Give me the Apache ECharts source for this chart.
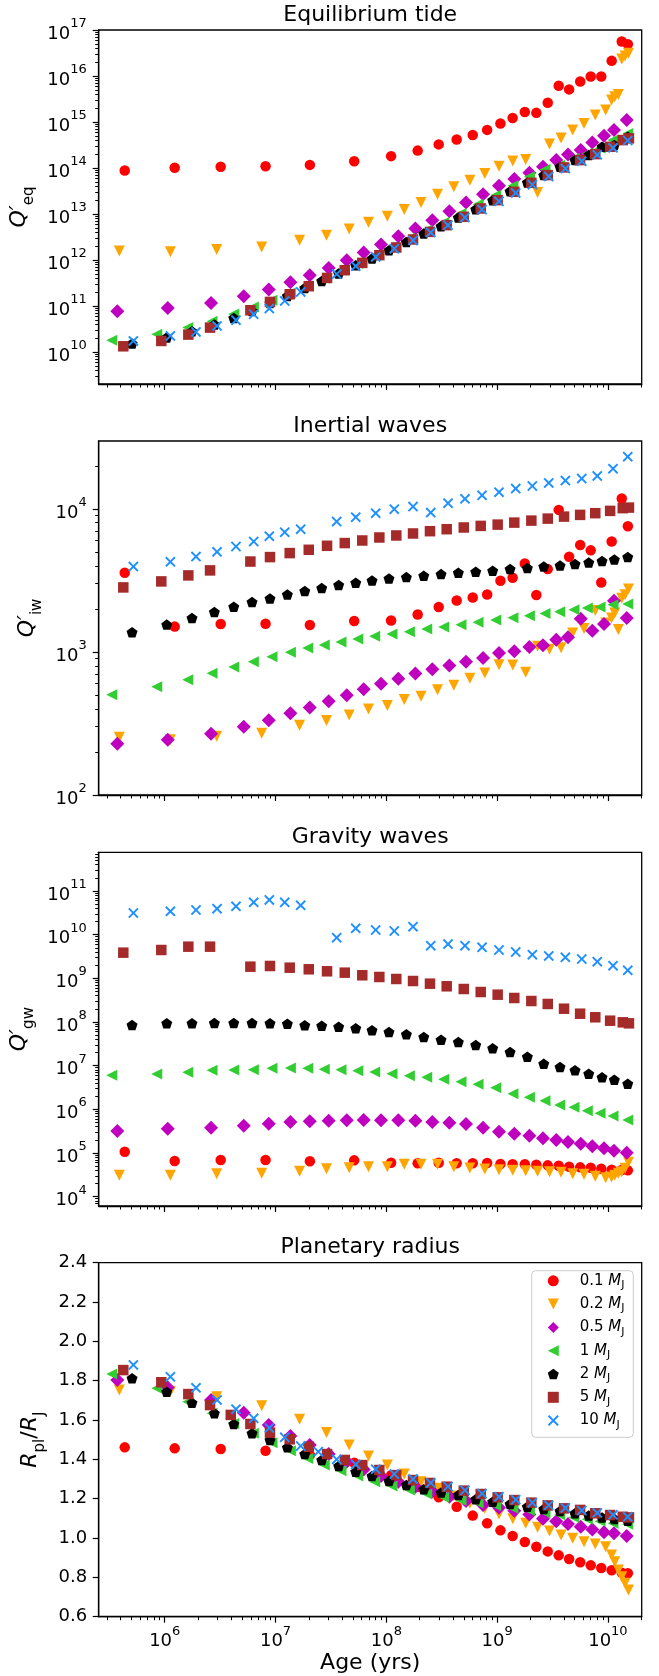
<!DOCTYPE html>
<html><head><meta charset="utf-8">
<script src="https://cdn.jsdelivr.net/npm/echarts@6/dist/echarts.min.js"></script>
<style>html,body{margin:0;padding:0;background:#fff}#c{width:659px;height:1676px}</style>
</head><body><div id="c"></div>
<script>
// ---------- DATA ----------
const masses = ['0.1', '0.2', '0.5', '1', '2', '5', '10'];
const panelTitles = ['Equilibrium tide', 'Inertial waves', 'Gravity waves', 'Planetary radius'];
const xTickValues = [1e6, 1e7, 1e8, 1e9, 1e10];

// log10(age / yr) per planet mass
const ageLog_0p1 = [5.639, 6.090, 6.505, 6.910, 7.310, 7.710, 8.043, 8.283, 8.473, 8.635, 8.780, 8.910, 9.030, 9.140, 9.250, 9.354, 9.457, 9.556, 9.650, 9.750, 9.845, 9.940, 10.034, 10.125, 10.180];
const ageLog_0p2 = [5.590, 6.051, 6.469, 6.875, 7.217, 7.460, 7.665, 7.839, 8.009, 8.162, 8.313, 8.462, 8.609, 8.754, 8.889, 9.017, 9.141, 9.258, 9.365, 9.473, 9.577, 9.682, 9.784, 9.886, 9.980, 10.033, 10.062, 10.094, 10.125, 10.155, 10.186];
const ageLog_0p5 = [5.572, 6.027, 6.418, 6.713, 6.939, 7.134, 7.309, 7.480, 7.643, 7.796, 7.952, 8.108, 8.262, 8.415, 8.569, 8.719, 8.873, 9.017, 9.155, 9.291, 9.414, 9.534, 9.640, 9.755, 9.859, 9.965, 10.055, 10.170];
const ageLog_1 = [5.522, 5.928, 6.208, 6.427, 6.623, 6.800, 6.968, 7.134, 7.291, 7.440, 7.591, 7.742, 7.895, 8.051, 8.208, 8.365, 8.518, 8.674, 8.828, 8.987, 9.143, 9.291, 9.432, 9.565, 9.694, 9.814, 9.929, 10.046, 10.179];
const ageLog_2 = [5.705, 6.018, 6.246, 6.448, 6.623, 6.788, 6.950, 7.107, 7.264, 7.417, 7.570, 7.724, 7.871, 8.024, 8.181, 8.338, 8.494, 8.650, 8.807, 8.960, 9.117, 9.273, 9.421, 9.568, 9.703, 9.827, 9.947, 10.058, 10.179];
const ageLog_5 = [5.626, 5.969, 6.213, 6.409, 6.596, 6.773, 6.950, 7.128, 7.300, 7.465, 7.625, 7.783, 7.937, 8.090, 8.241, 8.394, 8.545, 8.699, 8.852, 9.005, 9.155, 9.309, 9.457, 9.604, 9.749, 9.886, 10.020, 10.134, 10.190];
const ageLog_10 = [5.717, 6.051, 6.282, 6.472, 6.643, 6.803, 6.944, 7.083, 7.227, 7.386, 7.552, 7.724, 7.904, 8.072, 8.241, 8.401, 8.557, 8.710, 8.864, 9.017, 9.168, 9.318, 9.466, 9.616, 9.764, 9.904, 10.046, 10.179];

// Panel 1: log10 Q'_eq
const log10Qeq_0p1 = [13.95, 14.007, 14.03, 14.04, 14.07, 14.15, 14.26, 14.38, 14.515, 14.62, 14.72, 14.83, 14.97, 15.09, 15.22, 15.20, 15.42, 15.79, 15.71, 15.88, 15.99, 15.99, 16.33, 16.75, 16.69];
const log10Qeq_0p2 = [12.202, 12.181, 12.232, 12.289, 12.435, 12.543, 12.68, 12.826, 12.957, 13.101, 13.254, 13.435, 13.594, 13.739, 13.884, 14.043, 14.152, 14.188, 13.472, 14.522, 14.652, 14.826, 14.971, 15.152, 15.261, 15.478, 15.551, 15.601, 16.37, 16.435, 16.493];
const log10Qeq_0p5 = [10.891, 10.963, 11.072, 11.217, 11.362, 11.522, 11.674, 11.833, 12.0, 12.167, 12.341, 12.522, 12.689, 12.87, 13.065, 13.254, 13.435, 13.615, 13.761, 13.898, 14.028, 14.174, 14.297, 14.391, 14.559, 14.703, 14.826, 15.043];
const log10Qeq_1 = [10.261, 10.391, 10.537, 10.674, 10.833, 10.985, 11.13, 11.289, 11.441, 11.609, 11.783, 11.928, 12.115, 12.289, 12.472, 12.652, 12.82, 13.015, 13.217, 13.413, 13.615, 13.81, 13.97, 14.065, 14.21, 14.32, 14.43, 14.61, 14.75];
const log10Qeq_2 = [10.189, 10.32, 10.457, 10.602, 10.746, 10.898, 11.072, 11.224, 11.398, 11.55, 11.711, 11.891, 12.036, 12.217, 12.398, 12.58, 12.74, 12.928, 13.109, 13.304, 13.5, 13.689, 13.848, 14.028, 14.174, 14.283, 14.463, 14.5, 14.68];
const log10Qeq_5 = [10.13, 10.246, 10.384, 10.536, null, 10.913, 11.094, 11.261, 11.435, 11.615, 11.783, 11.942, 12.109, 12.276, 12.45, 12.615, 12.761, 12.942, 13.124, 13.304, 13.485, 13.681, 13.848, 14.015, 14.174, 14.304, 14.463, 14.609, 14.646];
const log10Qeq_10 = [10.246, 10.354, 10.441, 10.572, 10.696, 10.826, 10.949, 11.116, 11.311, null, 11.70, 11.87, 12.07, 12.25, 12.43, 12.6, 12.76, 12.93, 13.10, 13.28, 13.46, 13.64, 13.82, 13.99, 14.15, 14.29, 14.44, 14.6];

// Panel 2: log10 Q'_iw
const log10Qiw_0p1 = [3.553, 3.177, 3.195, 3.197, 3.188, 3.216, 3.220, 3.262, 3.314, 3.360, 3.381, 3.402, 3.498, 3.519, 3.618, 3.398, 3.579, 3.993, 3.665, 3.747, 3.710, 3.486, 3.772, 4.072, 3.879];
const log10Qiw_0p2 = [2.404, 2.386, 2.411, 2.432, 2.488, 2.521, 2.560, 2.602, 2.625, 2.667, 2.690, 2.735, 2.767, 2.816, 2.853, 2.911, 2.909, 2.858, 3.040, 3.018, 3.030, 3.133, 3.163, 3.290, 3.202, 3.237, 3.272, 3.156, 3.376, 3.400, 3.440];
const log10Qiw_0p5 = [2.358, 2.386, 2.428, 2.477, 2.523, 2.572, 2.611, 2.655, 2.697, 2.739, 2.777, 2.812, 2.849, 2.879, 2.906, 2.932, 2.958, 2.993, 3.004, 3.035, 3.046, 3.086, 3.102, 3.232, 3.149, 3.195, 3.358, 3.237];
const log10Qiw_1 = [2.700, 2.756, 2.805, 2.851, 2.895, 2.932, 2.967, 2.997, 3.028, 3.049, 3.070, 3.091, 3.109, 3.126, 3.142, 3.161, 3.174, 3.190, 3.207, 3.223, 3.239, 3.253, 3.269, 3.281, 3.295, 3.307, 3.314, 3.330, 3.335];
const log10Qiw_2 = [3.137, 3.191, 3.237, 3.279, 3.316, 3.349, 3.374, 3.402, 3.426, 3.447, 3.468, 3.484, 3.500, 3.514, 3.523, 3.532, 3.544, 3.553, 3.560, 3.567, 3.579, 3.586, 3.597, 3.604, 3.614, 3.625, 3.635, 3.646, 3.663];
const log10Qiw_5 = [3.451, 3.493, 3.535, 3.570, null, 3.632, 3.663, 3.691, 3.714, 3.742, 3.761, 3.779, 3.800, 3.814, 3.828, 3.844, 3.858, 3.870, 3.881, 3.890, 3.904, 3.918, 3.932, 3.946, 3.958, 3.970, 3.986, 4.005, 4.009];
const log10Qiw_10 = [3.597, 3.630, 3.667, 3.700, 3.737, 3.772, 3.809, 3.837, 3.858, null, 3.911, 3.942, 3.970, 3.998, 4.016, 3.974, 4.040, 4.070, 4.095, 4.117, 4.142, 4.160, 4.181, 4.198, 4.212, 4.230, 4.281, 4.365];

// Panel 3: log10 Q'_gw
const log10Qgw_0p1 = [5.03, 4.817, 4.84, 4.84, 4.81, 4.832, 4.779, 4.764, 4.779, 4.764, 4.764, 4.771, 4.748, 4.741, 4.741, 4.733, 4.718, 4.71, 4.687, 4.672, 4.664, 4.641, 4.618, 4.611, 4.603];
const log10Qgw_0p2 = [4.49, 4.49, 4.527, 4.535, 4.581, 4.642, 4.665, 4.687, 4.687, 4.741, 4.741, 4.741, 4.687, 4.657, 4.634, 4.618, 4.603, 4.596, 4.581, 4.573, 4.557, 4.527, 4.512, 4.466, 4.436, 4.45, 4.49, 4.535, 4.573, 4.65, 4.787];
const log10Qgw_0p5 = [5.504, 5.557, 5.58, 5.626, 5.672, 5.71, 5.725, 5.74, 5.748, 5.756, 5.748, 5.748, 5.74, 5.71, 5.695, 5.664, 5.58, 5.489, 5.443, 5.397, 5.336, 5.298, 5.252, 5.214, 5.153, 5.107, 5.053, 5.007];
const log10Qgw_1 = [6.779, 6.81, 6.848, 6.894, 6.901, 6.908, 6.939, 6.947, 6.939, 6.916, 6.908, 6.885, 6.855, 6.817, 6.771, 6.734, 6.688, 6.634, 6.573, 6.496, 6.359, 6.276, 6.198, 6.1, 6.047, 5.97, 5.91, 5.848, 5.757];
const log10Qgw_2 = [7.932, 7.97, 7.97, 7.977, 7.977, 7.977, 7.97, 7.962, 7.924, 7.916, 7.893, 7.855, 7.81, 7.771, 7.718, 7.657, 7.595, 7.542, 7.474, 7.398, 7.313, 7.206, 7.046, 6.97, 6.894, 6.817, 6.734, 6.679, 6.588];
const log10Qgw_5 = [9.588, 9.649, 9.725, 9.725, null, 9.267, 9.283, 9.244, 9.207, 9.161, 9.13, 9.07, 9.031, 8.985, 8.939, 8.878, 8.818, 8.756, 8.687, 8.626, 8.55, 8.481, 8.413, 8.305, 8.19, 8.108, 8.03, 7.993, 7.97];
const log10Qgw_10 = [10.496, 10.535, 10.565, 10.595, 10.649, 10.741, 10.794, 10.741, 10.672, null, 9.931, 10.145, 10.107, 10.084, 10.183, 9.748, 9.786, 9.748, 9.711, 9.649, 9.603, 9.542, 9.512, 9.482, 9.443, 9.382, 9.29, 9.184];

// Panel 4: R_pl / R_J
const radius_0p1 = [1.461, 1.456, 1.453, 1.444, 1.422, 1.383, 1.319, 1.261, 1.207, 1.159, 1.114, 1.075, 1.039, 1.01, 0.98, 0.956, 0.932, 0.912, 0.893, 0.877, 0.861, 0.848, 0.836, 0.824, 0.821];
const radius_0p2 = [1.753, 1.744, 1.719, 1.673, 1.604, 1.536, 1.473, 1.417, 1.371, 1.326, 1.286, 1.253, 1.214, 1.177, 1.151, 1.122, 1.098, 1.075, 1.055, 1.036, 1.015, 0.999, 0.981, 0.97, 0.956, 0.914, 0.88, 0.837, 0.803, 0.77, 0.736];
const radius_0p5 = [1.804, 1.766, 1.702, 1.637, 1.575, 1.519, 1.473, 1.427, 1.388, 1.349, 1.315, 1.286, 1.261, 1.236, 1.21, 1.188, 1.168, 1.154, 1.139, 1.12, 1.098, 1.085, 1.071, 1.058, 1.044, 1.03, 1.024, 1.01];
const radius_1 = [1.834, 1.761, 1.693, 1.634, 1.583, 1.533, 1.485, 1.444, 1.405, 1.371, 1.342, 1.315, 1.286, 1.265, 1.244, 1.224, 1.207, 1.192, 1.178, 1.165, 1.152, 1.14, 1.128, 1.118, 1.105, 1.095, 1.085, 1.075, 1.07];
const radius_2 = [1.812, 1.744, 1.688, 1.634, 1.58, 1.533, 1.498, 1.461, 1.427, 1.397, 1.366, 1.337, 1.315, 1.29, 1.27, 1.248, 1.232, 1.219, 1.197, 1.185, 1.173, 1.159, 1.148, 1.137, 1.126, 1.114, 1.105, 1.097, 1.088];
const radius_5 = [1.854, 1.792, 1.732, 1.676, 1.626, 1.58, 1.536, 1.502, 1.464, 1.427, 1.397, 1.371, 1.346, 1.32, 1.295, 1.28, 1.261, 1.241, 1.224, 1.207, 1.193, 1.18, 1.166, 1.151, 1.143, 1.126, 1.117, 1.108, 1.105];
const radius_10 = [1.88, 1.82, 1.764, 1.702, 1.655, 1.609, 1.56, 1.512, 1.468, 1.439, 1.40, 1.375, 1.35, 1.325, 1.30, 1.28, 1.262, 1.243, 1.226, 1.21, 1.195, 1.18, 1.167, 1.153, 1.14, 1.128, 1.118, 1.108];

// ---------- CHART ----------
const FONT = 'DejaVu Sans';
const ages = [ageLog_0p1, ageLog_0p2, ageLog_0p5, ageLog_1, ageLog_2, ageLog_5, ageLog_10];
const panels = [
  {vals: [log10Qeq_0p1, log10Qeq_0p2, log10Qeq_0p5, log10Qeq_1, log10Qeq_2, log10Qeq_5, log10Qeq_10], log: true,
   top: 30, height: 354, ymin: Math.pow(10, 9.311), ymax: 1e17, yMajor: [1e10,1e11,1e12,1e13,1e14,1e15,1e16,1e17],
   name: '{q|Q′}{sub|eq}', nameGap: 58},
  {vals: [log10Qiw_0p1, log10Qiw_0p2, log10Qiw_0p5, log10Qiw_1, log10Qiw_2, log10Qiw_5, log10Qiw_10], log: true,
   top: 441, height: 354, ymin: 100, ymax: Math.pow(10, 4.4745), yMajor: [1e2,1e3,1e4],
   name: '{q|Q′}{sub|iw}', nameGap: 48},
  {vals: [log10Qgw_0p1, log10Qgw_0p2, log10Qgw_0p5, log10Qgw_1, log10Qgw_2, log10Qgw_5, log10Qgw_10], log: true,
   top: 852.3, height: 353.7, ymin: Math.pow(10, 3.787), ymax: Math.pow(10, 11.886), yMajor: [1e4,1e5,1e6,1e7,1e8,1e9,1e10,1e11],
   name: '{q|Q′}{sub|gw}', nameGap: 58},
  {vals: [radius_0p1, radius_0p2, radius_0p5, radius_1, radius_2, radius_5, radius_10], log: false,
   top: 1262.7, height: 354, ymin: 0.6, ymax: 2.4,
   name: '{q|R}{sub|pl}{n|/}{q|R}{sub|J}', nameGap: 46}
];

const PENTA = 'path://M0,-1L0.951,-0.309L0.588,0.809L-0.588,0.809L-0.951,-0.309Z';
const XSYM = 'path://M0,1.3L1.3,0L5,3.7L8.7,0L10,1.3L6.3,5L10,8.7L8.7,10L5,6.3L1.3,10L0,8.7L3.7,5Z';
const TRI_DOWN = 'path://M0,0L10,0L5,10Z';
const TRI_LEFT = 'path://M10,0L10,10L0,5Z';
const styles = [
  {color: '#ff0000', symbol: 'circle', size: 10.5},
  {color: '#ffa500', symbol: TRI_DOWN, size: [11, 11]},
  {color: '#bf00bf', symbol: 'diamond', size: [14, 14]},
  {color: '#32cd32', symbol: TRI_LEFT, size: [11, 11]},
  {color: '#000000', symbol: PENTA, size: [11, 10.5]},
  {color: '#a52a2a', symbol: 'rect', size: 10.5},
  {color: '#1e90ff', symbol: XSYM, size: 10.5}
];

const XMIN = Math.pow(10, 5.404), XMAX = Math.pow(10, 10.305);
const GL = 98.7, GW = 543;

function minorLog(lo, hi) {
  const out = [];
  const n0 = Math.floor(Math.log10(lo)) - 1, n1 = Math.ceil(Math.log10(hi));
  for (let n = n0; n <= n1; n++) for (let k = 2; k <= 9; k++) {
    const v = k * Math.pow(10, n);
    if (v >= lo && v <= hi) out.push(v);
  }
  return out;
}
const powFmt = v => '{b|10}{s|' + Math.round(Math.log10(v)) + '}';
const tickRich = {
  b: {fontFamily: FONT, fontSize: 18, lineHeight: 26, verticalAlign: 'bottom', color: '#000'},
  s: {fontFamily: FONT, fontSize: 13, lineHeight: 13, verticalAlign: 'top', color: '#000'}
};
const nameRich = {
  q: {fontFamily: FONT, fontSize: 22, fontStyle: 'italic', lineHeight: 28, verticalAlign: 'top', color: '#000'},
  n: {fontFamily: FONT, fontSize: 22, lineHeight: 28, verticalAlign: 'top', color: '#000'},
  sub: {fontFamily: FONT, fontSize: 15, lineHeight: 13, verticalAlign: 'bottom', color: '#000'}
};
const black = {color: '#000', width: 1.3};

const grid = [], xAxis = [], yAxis = [], series = [];
panels.forEach((p, i) => {
  grid.push({left: GL, width: GW, top: p.top, height: p.height, show: true, borderColor: '#000', borderWidth: 1.3,
             backgroundColor: 'transparent', containLabel: false, outerBoundsMode: 'none'});
});
// main x axes
panels.forEach((p, i) => {
  const last = i === panels.length - 1;
  xAxis.push({type: 'log', gridIndex: i, min: XMIN, max: XMAX, position: 'bottom',
    axisLine: {show: true, lineStyle: black},
    axisTick: {show: true, customValues: xTickValues, length: 6, lineStyle: {color: '#000', width: 1.2}},
    axisLabel: {show: last, customValues: xTickValues, formatter: powFmt, margin: 8, rich: tickRich, color: '#000'},
    splitLine: {show: false}, minorTick: {show: false},
    name: last ? 'Age (yrs)' : '', nameLocation: 'middle', nameGap: 36,
    nameTextStyle: {fontFamily: FONT, fontSize: 22, lineHeight: 22, color: '#000'}
  });
});
// minor x axes
panels.forEach((p, i) => {
  xAxis.push({type: 'log', gridIndex: i, min: XMIN, max: XMAX, position: 'bottom',
    axisLine: {show: false}, axisLabel: {show: false}, splitLine: {show: false},
    axisTick: {show: true, customValues: minorLog(XMIN, XMAX), length: 3.5, lineStyle: {color: '#000', width: 1}}
  });
});
// main y axes
panels.forEach((p, i) => {
  const ax = {gridIndex: i, min: p.ymin, max: p.ymax, position: 'left',
    axisLine: {show: true, lineStyle: black}, splitLine: {show: false}, minorTick: {show: false},
    name: p.name, nameLocation: 'middle', nameRotate: 90, nameGap: p.nameGap,
    nameTextStyle: {fontFamily: FONT, fontSize: 22, color: '#000', rich: nameRich}
  };
  if (p.log) {
    ax.type = 'log';
    ax.axisTick = {show: true, customValues: p.yMajor, length: 6, lineStyle: {color: '#000', width: 1.2}};
    ax.axisLabel = {show: true, customValues: p.yMajor, formatter: powFmt, margin: 12, rich: tickRich, color: '#000'};
  } else {
    ax.type = 'value'; ax.interval = 0.2;
    ax.axisTick = {show: true, length: 6, lineStyle: {color: '#000', width: 1.2}};
    ax.axisLabel = {show: true, formatter: v => v.toFixed(1), margin: 11.5, fontFamily: FONT, fontSize: 18, color: '#000'};
  }
  yAxis.push(ax);
});
// minor y axes (log panels)
panels.forEach((p, i) => {
  if (!p.log) return;
  yAxis.push({type: 'log', gridIndex: i, min: p.ymin, max: p.ymax, position: 'left',
    axisLine: {show: false}, axisLabel: {show: false}, splitLine: {show: false},
    axisTick: {show: true, customValues: minorLog(p.ymin, p.ymax), length: 3.5, lineStyle: {color: '#000', width: 1}}
  });
});
// series
panels.forEach((p, pi) => {
  p.vals.forEach((vals, si) => {
    const data = [];
    vals.forEach((v, j) => {
      if (v === null) return;
      data.push([Math.pow(10, ages[si][j]), p.log ? Math.pow(10, v) : v]);
    });
    const st = styles[si];
    series.push({type: 'scatter', name: masses[si], xAxisIndex: pi, yAxisIndex: pi, data: data,
      symbol: st.symbol, symbolSize: st.size,
      itemStyle: {color: st.color, opacity: 1}, emphasis: {disabled: true}, silent: true, animation: false});
  });
});

const chart = echarts.init(document.getElementById('c'), null, {renderer: 'canvas'});
chart.setOption({
  animation: false,
  backgroundColor: '#fff',
  grid, xAxis, yAxis, series,
  graphic: panels.map((p, i) => ({type: 'text', x: GL + GW / 2, y: p.top - 15, silent: true,
    style: {text: panelTitles[i], fill: '#000', fontFamily: FONT, fontSize: 22,
            align: 'center', textAlign: 'center', verticalAlign: 'middle', textVerticalAlign: 'middle'}})),
  legend: {
    orient: 'vertical', right: 25.7, top: 1270.7, padding: [2.6, 8.8, 6.7, 16.1],
    itemWidth: 11, itemHeight: 11, itemGap: 5.8, selectedMode: false,
    backgroundColor: 'rgba(255,255,255,0.8)', borderColor: '#cccccc', borderWidth: 1, borderRadius: 4,
    data: masses.map((m, i) => ({name: m, icon: styles[i].symbol, itemStyle: {color: styles[i].color}})),
    formatter: name => '{sp|}{t|' + name + ' }{m|M}{j|J}',
    textStyle: {fontFamily: FONT, fontSize: 15, color: '#000', rich: {
      sp: {width: 15.9, lineHeight: 20},
      t: {fontFamily: FONT, fontSize: 15, lineHeight: 20, color: '#000'},
      m: {fontFamily: FONT, fontSize: 15, fontStyle: 'italic', lineHeight: 20, color: '#000'},
      j: {fontFamily: FONT, fontSize: 11, lineHeight: 11, verticalAlign: 'bottom', color: '#000'}
    }}
  }
});
</script>
</body></html>
